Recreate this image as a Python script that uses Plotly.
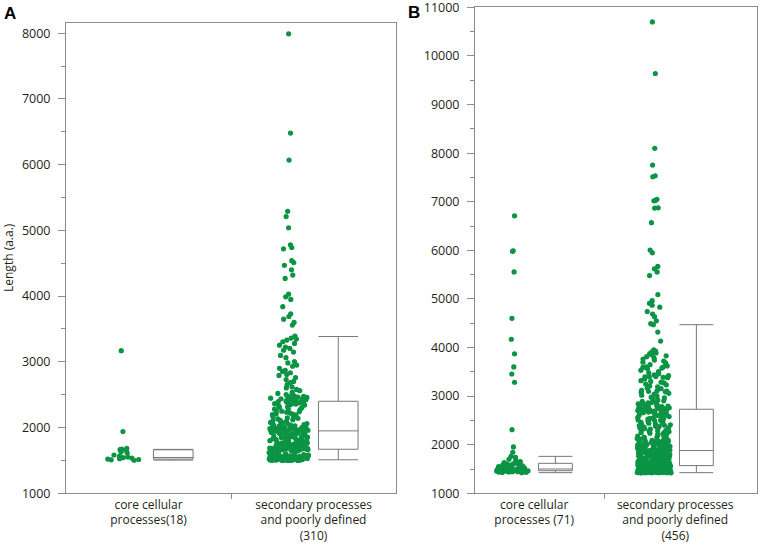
import plotly.graph_objects as go

# ---------------- data ----------------
cats_A = ["core cellular<br>processes(18)",
          "secondary processes<br>and poorly defined<br>(310)"]
cats_B = ["core cellular<br>processes (71)",
          "secondary processes<br>and poorly defined<br>(456)"]

len_A_core = [3170, 1940, 1685, 1672, 1664, 1650, 1628, 1612, 1583, 1561,
              1552, 1543, 1536, 1527, 1521, 1514, 1509, 1503]

len_A_sec = [
    7990, 6480, 6070, 5290, 5210, 5040, 4780, 4740, 4720, 4540, 4510, 4470,
    4400, 4320, 4270, 4030, 3990, 3950, 3840, 3730, 3690, 3650, 3600, 3560,
    3390, 3362, 3347, 3331, 3306, 3281, 3254, 3226, 3204, 3177, 3149, 3098,
    3063, 3002, 2984, 2951, 2933, 2902, 2871, 2853, 2834, 2809, 2793, 2762,
    2731, 2702, 2684, 2653, 2618, 2603, 2581, 2562, 2537, 2519, 2503, 2492,
    2481, 2476, 2468, 2463, 2459, 2452, 2447, 2443, 2438, 2433, 2429, 2424,
    2418, 2414, 2409, 2406, 2403, 2401,
    2396, 2391, 2384, 2379, 2376, 2368, 2364, 2358, 2351, 2342, 2333, 2318,
    2309, 2302, 2288, 2281, 2272, 2258, 2249, 2241, 2233, 2219, 2212, 2203,
    2196, 2188, 2181, 2169, 2162, 2148, 2141, 2132, 2118, 2109, 2101, 2094,
    2088, 2079, 2072, 2061, 2052, 2046, 2039, 2036, 2028, 2024, 2019, 2013,
    2011, 2004, 2001, 1997, 1994, 1993, 1989, 1987, 1984, 1981, 1979, 1977,
    1974, 1971, 1969, 1967, 1965, 1963, 1961, 1959, 1958, 1957, 1955, 1954,
    1953, 1952, 1951, 1950, 1950,
    1948, 1944, 1941, 1934, 1931, 1926, 1918, 1914, 1911, 1904,
    1899, 1896, 1889, 1886, 1879, 1874, 1871, 1864, 1861, 1854,
    1849, 1846, 1841, 1833, 1829, 1826, 1818, 1816, 1809, 1806,
    1801, 1794, 1791, 1786, 1779, 1776, 1769, 1766, 1761, 1754,
    1751, 1746, 1739, 1737, 1736, 1731, 1729, 1728, 1724, 1723,
    1719, 1718, 1714, 1713, 1709, 1708, 1704, 1703, 1699, 1698,
    1697, 1693, 1692, 1689, 1688, 1687, 1683, 1682, 1681, 1679,
    1678, 1677, 1676, 1675, 1674, 1673, 1672, 1671,
    1669, 1664, 1661, 1654, 1651, 1646, 1639, 1636, 1631, 1624,
    1621, 1614, 1611, 1606, 1599, 1598, 1593, 1592, 1587, 1586,
    1581, 1580, 1577, 1572, 1571, 1568, 1563, 1562, 1559, 1554,
    1553, 1549, 1548, 1547, 1544, 1543, 1539, 1538, 1537, 1533,
    1532, 1531, 1529, 1528, 1527, 1526, 1525, 1524, 1523, 1522,
    1521, 1520, 1519, 1518, 1517, 1516, 1515, 1514, 1513, 1512,
    1511, 1510, 1509, 1508, 1507, 1506, 1505, 1504, 1503, 1502,
    1501, 1501, 1500, 1500, 1500, 1500, 1500]

len_B_core = [
    6710, 5990, 5980, 5555, 4600, 4170, 3870, 3600, 3455, 3285, 2310, 1955,
    1845, 1760, 1740, 1700, 1680, 1650, 1630,
    1615, 1605, 1600, 1590, 1580, 1575, 1565, 1560, 1550, 1545, 1540, 1530,
    1525, 1520, 1515, 1510, 1505,
    1498, 1496, 1494, 1492, 1490, 1488, 1486, 1484, 1482, 1480, 1478, 1476,
    1474, 1472, 1470, 1468, 1467, 1466,
    1464, 1462, 1460, 1458, 1456, 1454, 1452, 1450, 1448, 1446, 1444, 1442,
    1440, 1436, 1432, 1428, 1425]

len_B_sec = [
    10700, 9640, 8100, 7755, 7535, 7515, 7050, 7025, 7020, 6875, 6870, 6570,
    6005, 5950, 5670, 5620, 5555, 5480, 5090, 4965, 4910, 4870, 4830, 4740,
    4690, 4635, 4550, 4490,
    4470, 4318, 4133, 3951, 3928, 3913, 3887, 3874, 3852, 3829,
    3812, 3788, 3763, 3741, 3722, 3697, 3683, 3648, 3621, 3602,
    3598, 3591, 3577, 3562, 3531, 3504, 3479, 3461, 3438, 3421,
    3403, 3399, 3396, 3391, 3386, 3378, 3352, 3318, 3302, 3288,
    3271, 3249, 3232, 3208, 3191, 3168, 3153, 3121, 3109, 3102,
    3098, 3089, 3081, 3058, 3042, 3019, 3003, 2979, 2962, 2938,
    2921, 2903, 2891, 2882, 2868, 2861, 2849, 2842, 2828, 2821,
    2809, 2801, 2796, 2788, 2786, 2779, 2776, 2768, 2766, 2759,
    2756, 2749, 2746, 2739, 2736, 2731,
    2726, 2719, 2716, 2711, 2704, 2701, 2699, 2696, 2689, 2681,
    2672, 2658, 2651, 2643, 2629, 2622, 2608, 2601, 2593, 2579,
    2571, 2558, 2552, 2543, 2538, 2529, 2522, 2509, 2502, 2498,
    2491, 2479, 2472, 2461, 2449, 2442, 2428, 2421, 2409, 2401,
    2392, 2378, 2371, 2362, 2348, 2341, 2332, 2319, 2311, 2298,
    2291, 2279, 2268, 2261, 2252, 2238, 2231, 2219, 2212, 2198,
    2191, 2179, 2172, 2158, 2151, 2142, 2128, 2121, 2111, 2099,
    2096, 2089, 2086, 2078, 2076, 2069, 2066, 2058, 2054, 2049,
    2046, 2038, 2036, 2029, 2026, 2018, 2016, 2009, 2006, 1999,
    1996, 1988, 1986, 1979, 1976, 1968, 1966, 1959, 1956, 1948,
    1946, 1938, 1936, 1929, 1926, 1918, 1916, 1909, 1906, 1898,
    1896, 1889, 1886, 1881,
    1878, 1876, 1871, 1869, 1866, 1863, 1862, 1857, 1854, 1853,
    1848, 1847, 1842, 1839, 1838, 1833, 1830, 1829, 1824, 1823,
    1818, 1817, 1812, 1809, 1808, 1803, 1802, 1797, 1796, 1791,
    1788, 1787, 1782, 1781, 1776, 1773, 1772, 1767, 1766, 1761,
    1758, 1757, 1752, 1751, 1746, 1743, 1742, 1737, 1736, 1731,
    1728, 1727, 1722, 1721, 1716, 1713, 1712, 1707, 1706, 1701,
    1698, 1697, 1692, 1691, 1686, 1683, 1682, 1677, 1676, 1671,
    1668, 1667, 1662, 1661, 1656, 1653, 1652, 1647, 1646, 1641,
    1638, 1637, 1632, 1631, 1626, 1623, 1622, 1617, 1616, 1611,
    1608, 1607, 1602, 1601, 1599, 1597, 1595, 1593, 1591, 1589,
    1587, 1585, 1584, 1582, 1581, 1579, 1578, 1577, 1576, 1575,
    1574, 1573, 1572, 1571,
    1569, 1566, 1563, 1561, 1558, 1556, 1553, 1551, 1548, 1546,
    1543, 1541, 1538, 1536, 1533, 1531, 1528, 1526, 1523, 1521,
    1518, 1516, 1513, 1511, 1508, 1506, 1503, 1501, 1499, 1497,
    1495, 1494, 1492, 1491, 1489, 1488, 1486, 1485, 1483, 1482,
    1480, 1479, 1477, 1476, 1474, 1473, 1471, 1470, 1468, 1467,
    1465, 1464, 1463, 1462, 1461, 1460, 1459, 1458, 1457, 1456,
    1455, 1454, 1453, 1452, 1451, 1450, 1449, 1448, 1447, 1446,
    1445, 1444, 1443, 1442, 1441, 1440, 1440, 1439, 1439, 1438,
    1438, 1437, 1437, 1436, 1436, 1435, 1435, 1434, 1434, 1433,
    1433, 1432, 1432, 1431, 1431, 1430, 1430, 1429, 1429, 1428,
    1428, 1427, 1427, 1426, 1426, 1426, 1425, 1425, 1425, 1425,
    1425, 1425, 1425, 1425]

# box-plot summary statistics (per category)
A_lowerfence = [1505, 1510]
A_q1 = [1520, 1670]
A_median = [1545, 1950]
A_q3 = [1662, 2400]
A_upperfence = [1668, 3385]

B_lowerfence = [1425, 1425]
B_q1 = [1465, 1570]
B_median = [1500, 1880]
B_q3 = [1617, 2730]
B_upperfence = [1760, 4470]

A_yticks = [1000, 2000, 3000, 4000, 5000, 6000, 7000, 8000]
B_yticks = [1000, 2000, 3000, 4000, 5000, 6000, 7000, 8000, 9000, 10000, 11000]

# ---------------- styling ----------------
GREEN = "#0b9444"
AXIS = "#8c8c8c"
TXT = "#231f20"
FONT = "Open Sans"

fig = go.Figure()


def add_panel(series, lf, q1, med, q3, uf, xa, ya, grp):
    xs, ys = [], []
    for i, s in enumerate(series):
        xs += [i] * len(s)
        ys += s
    fig.add_trace(go.Box(
        x=xs, y=ys, xaxis=xa, yaxis=ya,
        alignmentgroup=grp, offsetgroup=grp + "pts",
        boxpoints="all", jitter=1.0, pointpos=0,
        marker=dict(color=GREEN, size=5.2, line=dict(width=0)),
        line=dict(width=0, color="rgba(0,0,0,0)"),
        fillcolor="rgba(0,0,0,0)", showlegend=False, hoverinfo="y"))
    fig.add_trace(go.Box(
        x=list(range(len(series))), lowerfence=lf, q1=q1, median=med,
        q3=q3, upperfence=uf, xaxis=xa, yaxis=ya,
        alignmentgroup=grp, offsetgroup=grp + "box",
        boxpoints=False, whiskerwidth=1,
        line=dict(color="#777777", width=1), fillcolor="white",
        showlegend=False))


add_panel([len_A_core, len_A_sec], A_lowerfence, A_q1, A_median, A_q3,
          A_upperfence, "x", "y", "A")
add_panel([len_B_core, len_B_sec], B_lowerfence, B_q1, B_median, B_q3,
          B_upperfence, "x2", "y2", "B")

W, H = 760, 548


def px(v):
    return v / W


def py(v):
    return 1 - v / H


xcommon = dict(showline=True, linecolor=AXIS, linewidth=1, mirror=True,
               showgrid=False, zeroline=False, ticks="", automargin=False,
               tickfont=dict(family=FONT, size=12, color=TXT),
               minor=dict(tickmode="array", tickvals=[0.5], ticks="outside",
                          ticklen=5, tickcolor=AXIS, showgrid=False))
ycommon = dict(showline=True, linecolor=AXIS, linewidth=1, mirror=True,
               showgrid=False, zeroline=False, ticks="outside", ticklen=7,
               tickcolor=AXIS, tickformat="d", ticklabelstandoff=5,
               ticklabeloverflow="allow", automargin=False,
               tickfont=dict(family=FONT, size=12.5, color=TXT),
               minor=dict(dtick=500, ticks="outside", ticklen=4,
                          tickcolor=AXIS, showgrid=False))

fig.update_layout(
    width=W, height=H, margin=dict(l=0, r=0, t=0, b=0),
    paper_bgcolor="white", plot_bgcolor="white",
    boxmode="group", boxgap=0.4, boxgroupgap=0.2,
    font=dict(family=FONT, color=TXT),
    xaxis=dict(domain=[px(66), px(396)], range=[-0.5, 1.5],
               tickmode="array", tickvals=[0, 1], ticktext=cats_A,
               anchor="y", **xcommon),
    yaxis=dict(domain=[py(493.3), py(22.7)], range=[1000, 8160],
               tickmode="array", tickvals=A_yticks, anchor="x", **ycommon),
    xaxis2=dict(domain=[px(475), px(757)], range=[-0.42, 1.58],
                tickmode="array", tickvals=[0, 1], ticktext=cats_B,
                anchor="y2", **xcommon),
    yaxis2=dict(domain=[py(493.3), py(7.3)], range=[1000, 11002],
                tickmode="array", tickvals=B_yticks, anchor="x2", **ycommon),
    annotations=[
        dict(text="<b>A</b>", x=px(2), y=py(2), xref="paper", yref="paper",
             xanchor="left", yanchor="top", showarrow=False,
             font=dict(family="Arial", size=17, color="black")),
        dict(text="<b>B</b>", x=px(406), y=py(1), xref="paper", yref="paper",
             xanchor="left", yanchor="top", showarrow=False,
             font=dict(family="Arial", size=17, color="black")),
        dict(text="Length (a.a.)", x=px(8), y=py(258), xref="paper",
             yref="paper", xanchor="center", yanchor="middle",
             textangle=-90, showarrow=False,
             font=dict(family=FONT, size=12, color=TXT)),
    ],
)

fig.write_html("out.html",
               config={"displayModeBar": False},
               post_script="document.body.style.margin='0px';"
                           "document.body.style.overflow='hidden';")
